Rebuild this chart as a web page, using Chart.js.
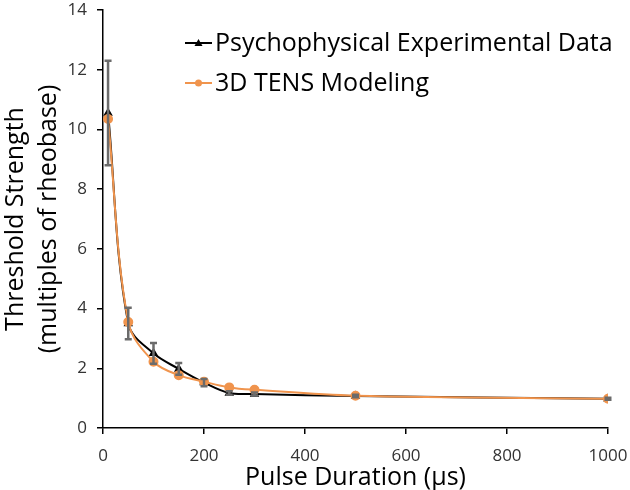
<!DOCTYPE html>
<html>
<head>
<meta charset="utf-8">
<script src="https://cdn.jsdelivr.net/npm/chart.js@4.4.1/dist/chart.umd.min.js"></script>
<style>
  html, body { margin: 0; padding: 0; background: #fff; }
  #wrap { width: 630px; height: 490px; position: relative; }
</style>
</head>
<body>
<div id="wrap"><canvas id="chart"></canvas></div>
<script>
// pulse durations (us)
const durations = [10, 50, 100, 150, 200, 250, 300, 500, 1000];
// psychophysical experiment, mean and error
const expValues = [10.55, 3.5, 2.5, 1.98, 1.52, 1.17, 1.14, 1.07, 0.98];
const expErrors = [1.75, 0.53, 0.35, 0.2, 0.12, 0.06, 0.05, 0.04, 0.03];
// model results
const modelValues = [10.35, 3.55, 2.22, 1.77, 1.55, 1.36, 1.28, 1.08, 0.98];
const xTicks = [0, 200, 400, 600, 800, 1000];
const yTicks = [0, 2, 4, 6, 8, 10, 12, 14];

const FONT = '"Open Sans", "Noto Sans", sans-serif';

const errorBars = {
  id: 'errorBars',
  afterDatasetsDraw(chart) {
    const ctx = chart.ctx;
    const xs = chart.scales.x, ys = chart.scales.y;
    ctx.save();
    ctx.strokeStyle = '#6b6b6b';
    ctx.lineWidth = 2.5;
    durations.forEach((d, i) => {
      const px = xs.getPixelForValue(d);
      const top = ys.getPixelForValue(expValues[i] + expErrors[i]);
      const bot = ys.getPixelForValue(expValues[i] - expErrors[i]);
      ctx.beginPath();
      ctx.moveTo(px, top); ctx.lineTo(px, bot);
      ctx.moveTo(px - 3.5, top); ctx.lineTo(px + 3.5, top);
      ctx.moveTo(px - 3.5, bot); ctx.lineTo(px + 3.5, bot);
      ctx.stroke();
    });
    ctx.restore();
  }
};

const insideLegend = {
  id: 'insideLegend',
  afterDraw(chart) {
    const ctx = chart.ctx;
    ctx.save();
    ctx.font = '25px ' + FONT;
    ctx.textBaseline = 'middle';
    chart.data.datasets.forEach((ds, i) => {
      const y = 43 + i * 40;
      ctx.strokeStyle = ds.borderColor;
      ctx.lineWidth = 2;
      ctx.beginPath(); ctx.moveTo(185, y); ctx.lineTo(212, y); ctx.stroke();
      ctx.fillStyle = ds.borderColor;
      ctx.beginPath();
      if (ds.pointStyle === 'triangle') {
        ctx.moveTo(198.5, y - 4); ctx.lineTo(202.5, y + 3); ctx.lineTo(194.5, y + 3);
      } else {
        ctx.arc(198.5, y, 3.5, 0, Math.PI * 2);
      }
      ctx.fill();
      ctx.fillStyle = '#000';
      ctx.fillText(ds.label, 215, y + 1);
    });
    ctx.restore();
  }
};

new Chart(document.getElementById('chart'), {
  type: 'line',
  data: {
    datasets: [
      {
        label: 'Psychophysical Experimental Data',
        data: durations.map((d, i) => ({ x: d, y: expValues[i] })),
        borderColor: '#000000',
        backgroundColor: '#000000',
        borderWidth: 2,
        pointStyle: 'triangle',
        pointRadius: 3.5,
        order: 1,
        tension: 0.35
      },
      {
        label: '3D TENS Modeling',
        data: durations.map((d, i) => ({ x: d, y: modelValues[i] })),
        borderColor: '#f0944d',
        backgroundColor: '#f0944d',
        borderWidth: 2,
        pointStyle: 'circle',
        pointRadius: 4,
        order: 0,
        tension: 0.35
      }
    ]
  },
  options: {
    responsive: true,
    maintainAspectRatio: false,
    animation: false,
    layout: { padding: { top: 10, right: 22, left: 0, bottom: 0 } },
    plugins: { legend: { display: false }, tooltip: { enabled: false } },
    scales: {
      x: {
        type: 'linear',
        min: 0, max: 1000,
        afterBuildTicks: s => { s.ticks = xTicks.map(v => ({ value: v })); },
        afterFit: s => { s.height = 62; s.paddingLeft = 0; s.paddingRight = 0; },
        border: { display: true, color: '#000', width: 1.5 },
        grid: { display: true, drawOnChartArea: false, drawTicks: true, tickLength: 6, color: '#000', lineWidth: 1.5 },
        ticks: { color: '#333', font: { family: FONT, size: 17 }, padding: 12, maxRotation: 0, callback: v => String(v) },
        title: { display: true, text: 'Pulse Duration (µs)', color: '#000', font: { family: FONT, size: 25, lineHeight: 1.0 }, padding: { top: 0, bottom: 0 } }
      },
      y: {
        min: 0, max: 14,
        afterBuildTicks: s => { s.ticks = yTicks.map(v => ({ value: v })); },
        afterFit: s => { s.width = 103; s.paddingTop = 0; s.paddingBottom = 0; },
        border: { display: true, color: '#000', width: 1.5 },
        grid: { display: true, drawOnChartArea: false, drawTicks: true, tickLength: 6, color: '#000', lineWidth: 1.5 },
        ticks: { color: '#333', font: { family: FONT, size: 17 }, padding: 10, callback: v => String(v) },
        title: {
          display: true,
          text: ['Threshold Strength', '(multiples of rheobase)'],
          color: '#000',
          font: { family: FONT, size: 25, lineHeight: 1.3 },
          padding: { top: 0, bottom: 0 }
        }
      }
    }
  },
  plugins: [errorBars, insideLegend]
});
</script>
</body>
</html>
